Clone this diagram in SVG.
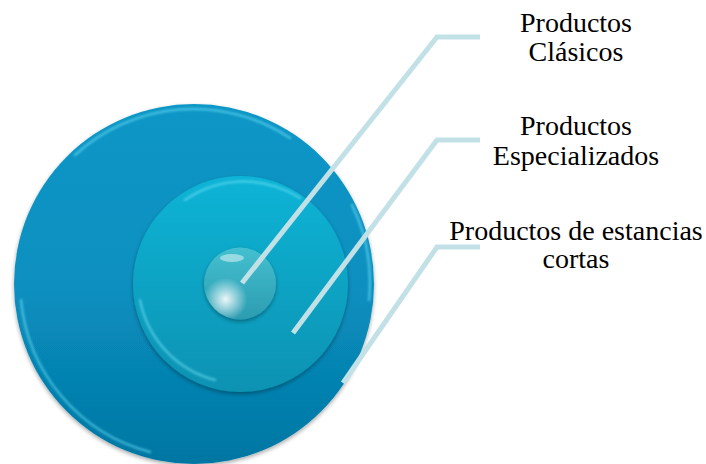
<svg xmlns="http://www.w3.org/2000/svg" width="706" height="464" viewBox="0 0 706 464">
<defs>
<linearGradient id="gBig" x1="0" y1="0" x2="0" y2="1">
<stop offset="0" stop-color="#0896c6"/>
<stop offset="0.5" stop-color="#0890c0"/>
<stop offset="1" stop-color="#0476a2"/>
</linearGradient>
<linearGradient id="gMid" x1="0" y1="0" x2="0" y2="1">
<stop offset="0" stop-color="#0bb4d6"/>
<stop offset="1" stop-color="#0892b2"/>
</linearGradient>
<linearGradient id="gSmall" x1="0" y1="0" x2="0" y2="1">
<stop offset="0" stop-color="#44c0d0"/>
<stop offset="1" stop-color="#2c9cb0"/>
</linearGradient>
<radialGradient id="gShine" cx="0.3" cy="0.72" r="0.3">
<stop offset="0" stop-color="#ffffff" stop-opacity="0.9"/>
<stop offset="1" stop-color="#ffffff" stop-opacity="0"/>
</radialGradient>
<filter id="shadow" x="-10%" y="-10%" width="120%" height="120%">
<feGaussianBlur in="SourceAlpha" stdDeviation="2"/>
<feOffset dx="0" dy="2"/>
<feComponentTransfer><feFuncA type="linear" slope="0.35"/></feComponentTransfer>
<feMerge><feMergeNode/><feMergeNode in="SourceGraphic"/></feMerge>
</filter>
<filter id="soft" x="-10%" y="-10%" width="120%" height="120%">
<feGaussianBlur stdDeviation="1"/>
</filter>
</defs>
<style>
.lbl{font-size:28px;fill:#000;text-anchor:middle}
.conn{fill:none;stroke:#c2e1e7;stroke-width:5;stroke-linejoin:miter}
.rim{fill:none;stroke:#6fe2f8;stroke-opacity:0.55;stroke-width:2.5;stroke-linecap:round;filter:url(#soft)}
</style>
<g id="outer">
<circle cx="194" cy="284" r="180" fill="url(#gBig)" filter="url(#shadow)"/>
<path class="rim" d="M75 155 A175 175 0 0 1 290 138"/>
<path class="rim" d="M21 300 A174 174 0 0 0 150 452"/>
<path class="rim" d="M352 205 A176 176 0 0 1 369 300"/>
</g>
<g id="middle">
<ellipse cx="240.5" cy="284" rx="107.5" ry="108" fill="url(#gMid)" filter="url(#shadow)"/>
<path class="rim" d="M185 200 A103 103 0 0 1 300 198"/>
<path class="rim" d="M140 300 A103 103 0 0 0 215 380"/>
</g>
<g id="inner">
<circle cx="240" cy="283.5" r="36" fill="url(#gSmall)" filter="url(#shadow)"/>
<circle cx="240" cy="283.5" r="36" fill="url(#gShine)"/>
<ellipse cx="232" cy="258" rx="12" ry="4" fill="#ffffff" fill-opacity="0.45"/>
</g>
<g id="connectors">
<polyline class="conn" points="242,283 437,37 480,37"/>
<polyline class="conn" points="293,333 437,140 480,140"/>
<polyline class="conn" points="343,383 437,247 480,247"/>
</g>
<g font-family="Liberation Serif, serif">
<g id="label-clasicos">
<text class="lbl" x="576" y="32">Productos</text>
<text class="lbl" x="576" y="61">Clásicos</text>
</g>
<g id="label-especializados">
<text class="lbl" x="576" y="135">Productos</text>
<text class="lbl" x="576" y="165">Especializados</text>
</g>
<g id="label-cortas">
<text class="lbl" x="576" y="240">Productos de estancias</text>
<text class="lbl" x="576" y="268">cortas</text>
</g>
</g>
</svg>
